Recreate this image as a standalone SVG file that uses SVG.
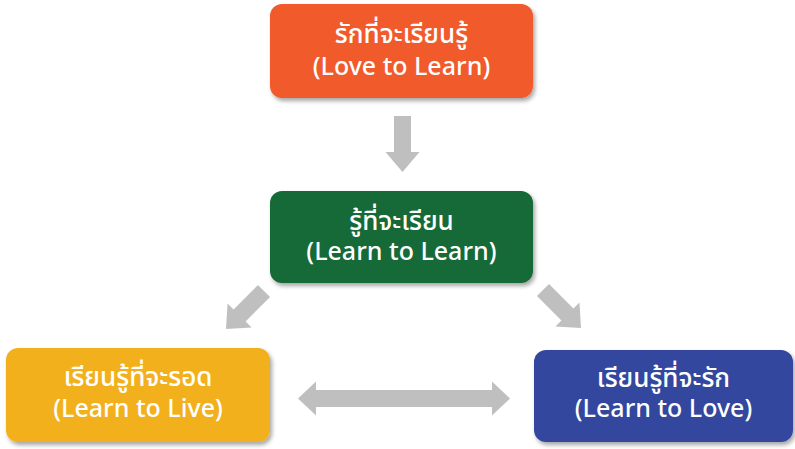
<svg xmlns="http://www.w3.org/2000/svg" width="795" height="449" viewBox="0 0 795 449">
  <defs>
    <filter id="shadow" x="-10%" y="-10%" width="125%" height="130%">
      <feDropShadow dx="2" dy="3" stdDeviation="2" flood-color="#000000" flood-opacity="0.35"/>
    </filter>
    <path id="arrow" d="M -8.5,0 L 8.5,0 L 8.5,36 L 17,36 L 0,56 L -17,36 L -8.5,36 Z"/>
  </defs>
  <style>
    .box { filter: url(#shadow); }
    .label { font-family: "Noto Sans Thai", "Noto Sans", "DejaVu Sans", sans-serif; font-weight: 500; fill: #ffffff; text-anchor: middle; }
    .th { font-size: 26px; }
    .en { font-size: 25px; }
    .conn { fill: #bfbfbf; }
  </style>
  <rect width="795" height="449" fill="#ffffff"/>

  <g id="connectors">
    <use href="#arrow" class="conn" transform="translate(402.5,116)"/>
    <use href="#arrow" class="conn" transform="translate(264,291) rotate(45) scale(1,0.96)"/>
    <use href="#arrow" class="conn" transform="translate(543,290) rotate(-45) scale(1,0.96)"/>
    <path class="conn" d="M 298,398.5 L 316,381.5 L 316,390 L 492,390 L 492,381.5 L 510,398.5 L 492,415.5 L 492,407 L 316,407 L 316,415.5 Z"/>
  </g>

  <g id="node-love-to-learn">
    <rect class="box" x="270" y="4" width="263" height="94" rx="12" fill="#f15a2b"/>
    <text class="label th" x="401.5" y="43">รักที่จะเรียนรู้</text>
    <text class="label en" x="401.5" y="75">(Love to Learn)</text>
  </g>

  <g id="node-learn-to-learn">
    <rect class="box" x="270" y="191" width="263" height="92" rx="12" fill="#146b37"/>
    <text class="label th" x="401.5" y="230">รู้ที่จะเรียน</text>
    <text class="label en" x="401.5" y="260">(Learn to Learn)</text>
  </g>

  <g id="node-learn-to-live">
    <rect class="box" x="6" y="348" width="264" height="94" rx="12" fill="#f2b11c"/>
    <text class="label th" x="138" y="386">เรียนรู้ที่จะรอด</text>
    <text class="label en" x="138" y="417">(Learn to Live)</text>
  </g>

  <g id="node-learn-to-love">
    <rect class="box" x="534" y="350" width="259" height="92" rx="12" fill="#32479d"/>
    <text class="label th" x="663.5" y="387">เรียนรู้ที่จะรัก</text>
    <text class="label en" x="663.5" y="417">(Learn to Love)</text>
  </g>
</svg>
